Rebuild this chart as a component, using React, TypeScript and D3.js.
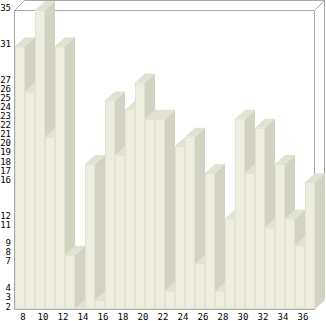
import React from "react";
import * as d3 from "d3";

const categories: number[] = [8, 9, 10, 11, 12, 13, 14, 15, 16, 17, 18, 19, 20, 21, 22, 23, 24, 25, 26, 27, 28, 29, 30, 31, 32, 33, 34, 35, 36, 37];
const values: number[] = [31, 26, 35, 21, 31, 8, 2, 18, 3, 25, 19, 24, 27, 23, 23, 4, 20, 21, 7, 17, 4, 12, 23, 17, 22, 11, 18, 12, 9, 16];
const yTickLabels: number[] = [35, 31, 27, 26, 25, 24, 23, 22, 21, 20, 19, 18, 17, 16, 12, 11, 9, 8, 7, 4, 3, 2];
const xTickLabels: number[] = [8, 10, 12, 14, 16, 18, 20, 22, 24, 26, 28, 30, 32, 34, 36];

const W = 326;
const H = 321;
const DX = 10;
const DY = -9;

export default function App() {
  const x = d3.scaleBand<number>().domain(categories).range([15, 315]).padding(0);
  const y = d3.scaleLinear().domain([2, 35]).range([309, 10]);
  const bw = x.bandwidth();
  const base = y(2);
  const frame = "#a8a8a8";
  const font = "'DejaVu Sans Mono', monospace";

  return (
    <svg width={W} height={H} style={{ position: "fixed", left: 0, top: 0, background: "#fff" }}>
      {/* frame */}
      <g stroke={frame} strokeWidth={1} fill="none">
        <line x1={14.5} y1={10.5} x2={314.5} y2={10.5} />
        <line x1={24.5} y1={0.5} x2={324.5} y2={0.5} />
        <line x1={14.5} y1={10.5} x2={24.5} y2={0.5} />
        <line x1={314.5} y1={10.5} x2={324.5} y2={0.5} />
        <line x1={314.5} y1={10.5} x2={314.5} y2={309.5} />
        <line x1={324.5} y1={0.5} x2={324.5} y2={300.5} />
      </g>
      {/* bars */}
      {categories.map((c, i) => {
        const x0 = x(c) as number;
        const yt = y(values[i]);
        const side = `${x0 + bw},${yt} ${x0 + bw + DX},${yt + DY} ${x0 + bw + DX},${base + DY} ${x0 + bw},${base}`;
        const top = `${x0},${yt} ${x0 + bw},${yt} ${x0 + bw + DX},${yt + DY} ${x0 + DX},${yt + DY}`;
        return (
          <g key={c}>
            <polygon points={side} fill="#d3d3c4" />
            <polygon points={top} fill="#e2e2d3" />
            <rect x={x0} y={yt} width={bw} height={base - yt} fill="#eeeee0" />
            <rect x={x0 + 0.5} y={yt + 0.5} width={bw - 1} height={Math.max(0, base - yt - 1)} fill="none" stroke="#e2e2d2" strokeWidth={1} />
          </g>
        );
      })}
      {/* axes */}
      <g stroke={frame} strokeWidth={1}>
        <line x1={14.5} y1={10} x2={14.5} y2={309.5} />
        <line x1={14.5} y1={309.5} x2={315} y2={309.5} />
      </g>
      <g fontFamily={font} fontSize={9} fill="#000">
        {yTickLabels.map((v) => (
          <text key={v} x={11} y={y(v) - 2} textAnchor="end" dominantBaseline="middle">{v}</text>
        ))}
        {xTickLabels.map((v) => (
          <text key={v} x={(x(v) as number) + bw / 2 + 3} y={317} textAnchor="middle" dominantBaseline="middle">{v}</text>
        ))}
      </g>
    </svg>
  );
}
